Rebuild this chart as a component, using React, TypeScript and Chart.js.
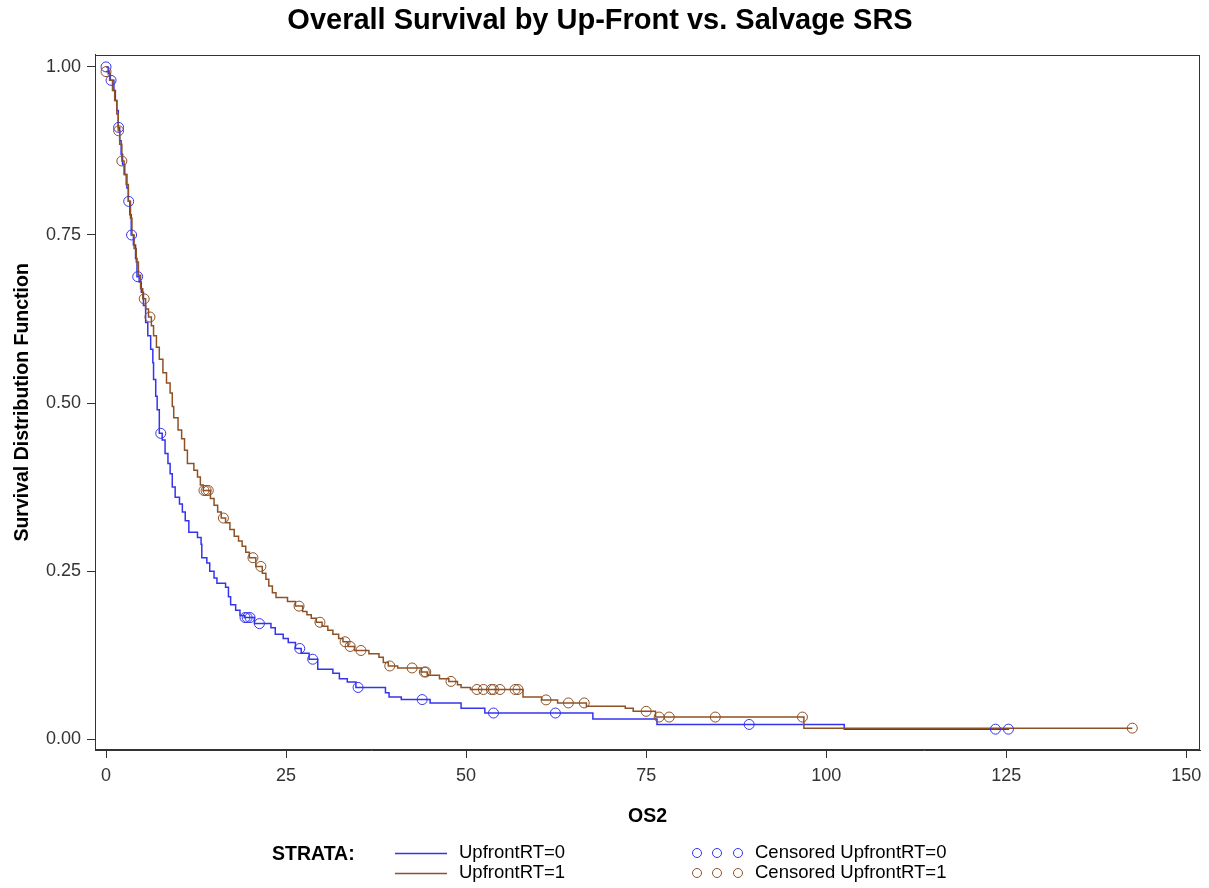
import React, { useEffect, useRef } from 'react';
import { Chart, registerables } from 'chart.js';

Chart.register(...registerables);

const BLUE = '#3434ee';
const BROWN = '#8e5125';
const SANS = "'Liberation Sans', Arial, sans-serif";

const chartTitle = 'Overall Survival by Up-Front vs. Salvage SRS';
const xTitle = 'OS2';
const yTitle = 'Survival Distribution Function';
const strataLabels = ['UpfrontRT=0', 'UpfrontRT=1'];
const censorLabels = ['Censored UpfrontRT=0', 'Censored UpfrontRT=1'];

const xTicks = [0, 25, 50, 75, 100, 125, 150];
const yTicks = [0, 0.25, 0.5, 0.75, 1.0];

// UpfrontRT=0 : event times and survival after each step
const timesRT0 = [0, 0.3, 0.6, 1.1, 1.3, 1.5, 1.7, 1.9, 2.1, 2.3, 2.6, 2.9, 3.1, 3.3, 3.5, 3.8, 4.1, 4.3, 4.6, 4.9, 5.2, 5.5, 5.8, 6.2, 6.5, 6.6, 6.9, 7.1, 7.4, 7.8, 8.2, 8.6, 8.9, 9.2, 9.6, 10.2, 10.6, 11.0, 11.5, 12.7, 13.2, 13.3, 14.0, 14.4, 15.0, 15.4, 16.6, 17.0, 17.3, 18.0, 18.6, 19.2, 20.6, 22.9, 23.5, 24.6, 25.3, 26.3, 27.1, 28.2, 29.4, 31.5, 32.4, 33.5, 34.7, 38.8, 39.3, 41.0, 45.0, 49.3, 52.6, 67.6, 76.5, 102.5, 125.4];
const survRT0 = [1.0, 0.99, 0.98, 0.965, 0.95, 0.935, 0.91, 0.89, 0.87, 0.855, 0.84, 0.82, 0.80, 0.78, 0.75, 0.735, 0.715, 0.688, 0.68, 0.665, 0.645, 0.62, 0.60, 0.58, 0.56, 0.535, 0.51, 0.49, 0.455, 0.445, 0.425, 0.41, 0.395, 0.375, 0.36, 0.35, 0.338, 0.325, 0.308, 0.30, 0.29, 0.27, 0.262, 0.25, 0.24, 0.232, 0.226, 0.212, 0.20, 0.192, 0.184, 0.181, 0.172, 0.166, 0.156, 0.15, 0.144, 0.135, 0.128, 0.119, 0.104, 0.098, 0.09, 0.085, 0.077, 0.069, 0.063, 0.059, 0.054, 0.046, 0.039, 0.030, 0.022, 0.015, 0.015];
const censorRT0 = [0, 0.7, 1.75, 3.15, 3.55, 4.4, 7.6, 19.3, 19.6, 20.0, 21.3, 26.9, 28.7, 35.0, 43.9, 53.8, 62.4, 89.3, 123.5, 125.3];

// UpfrontRT=1
const timesRT1 = [0, 0.5, 0.9, 1.2, 1.5, 1.7, 1.9, 2.2, 2.5, 2.8, 3.1, 3.4, 3.6, 3.9, 4.2, 4.5, 4.8, 5.1, 5.5, 5.9, 6.3, 6.6, 7.0, 7.4, 7.9, 8.4, 8.9, 9.2, 9.4, 10.0, 10.5, 10.9, 11.3, 12.2, 12.7, 13.1, 13.5, 14.5, 15.0, 15.5, 16.0, 16.6, 17.2, 17.8, 18.4, 18.9, 19.4, 19.9, 20.8, 21.7, 22.2, 22.6, 23.1, 23.6, 25.2, 26.3, 27.3, 27.9, 28.5, 29.2, 30.0, 30.8, 31.5, 32.3, 32.9, 33.6, 34.5, 36.5, 37.9, 38.5, 39.2, 40.5, 43.8, 44.6, 46.3, 47.6, 48.8, 49.3, 50.6, 57.9, 60.5, 62.7, 66.7, 72.1, 73.2, 76.3, 96.9, 142.5];
const survRT1 = [0.993, 0.98, 0.965, 0.95, 0.93, 0.905, 0.885, 0.86, 0.84, 0.825, 0.80, 0.775, 0.75, 0.73, 0.71, 0.69, 0.67, 0.655, 0.64, 0.628, 0.615, 0.60, 0.583, 0.565, 0.545, 0.53, 0.515, 0.495, 0.478, 0.46, 0.447, 0.43, 0.41, 0.40, 0.39, 0.378, 0.37, 0.358, 0.348, 0.338, 0.329, 0.322, 0.312, 0.302, 0.295, 0.287, 0.278, 0.27, 0.257, 0.247, 0.238, 0.228, 0.218, 0.211, 0.205, 0.198, 0.19, 0.185, 0.18, 0.174, 0.168, 0.162, 0.156, 0.15, 0.145, 0.138, 0.132, 0.127, 0.122, 0.114, 0.109, 0.106, 0.1, 0.095, 0.09, 0.086, 0.081, 0.077, 0.074, 0.063, 0.0585, 0.054, 0.049, 0.046, 0.0415, 0.033, 0.0165, 0.0165];
const censorRT1 = [0, 1.75, 2.2, 5.3, 6.1, 13.6, 13.9, 14.2, 16.3, 20.4, 21.5, 26.8, 29.7, 33.2, 33.9, 35.4, 39.4, 42.5, 44.2, 44.4, 47.9, 51.5, 52.4, 53.5, 53.8, 54.7, 56.8, 57.2, 61.1, 64.2, 66.4, 75.0, 76.8, 78.2, 84.6, 96.7, 142.5];

function survAt(times: number[], surv: number[], t: number): number {
  let s = surv[0];
  for (let i = 0; i < times.length; i++) {
    if (times[i] <= t) s = surv[i];
  }
  return s;
}

function stepPoints(times: number[], surv: number[]) {
  return times.map((t, i) => ({ x: t, y: surv[i] }));
}

function censorPoints(cens: number[], times: number[], surv: number[]) {
  return cens.map((t) => ({ x: t, y: survAt(times, surv, t) }));
}

const framePlugin = {
  id: 'frame',
  afterDraw(chart: any) {
    const { ctx, chartArea } = chart;
    ctx.save();
    ctx.strokeStyle = '#333';
    ctx.lineWidth = 1;
    ctx.strokeRect(
      Math.round(chartArea.left) + 0.5,
      Math.round(chartArea.top) + 0.5,
      Math.round(chartArea.right - chartArea.left) - 1,
      Math.round(chartArea.bottom - chartArea.top) - 1
    );
    ctx.restore();
  },
};

const legendPlugin = {
  id: 'sasLegend',
  afterDraw(chart: any) {
    const { ctx } = chart;
    ctx.save();
    ctx.textBaseline = 'middle';
    ctx.fillStyle = '#000';
    ctx.font = `bold 19.5px ${SANS}`;
    ctx.textAlign = 'left';
    ctx.fillText('STRATA:', 272, 855);
    const colors = [BLUE, BROWN];
    const rows = [853, 873];
    ctx.font = `18.5px ${SANS}`;
    for (let i = 0; i < 2; i++) {
      const y = rows[i];
      ctx.strokeStyle = colors[i];
      ctx.lineWidth = 1.5;
      ctx.beginPath();
      ctx.moveTo(395, y + 0.5);
      ctx.lineTo(447, y + 0.5);
      ctx.stroke();
      ctx.fillStyle = '#000';
      ctx.fillText(strataLabels[i], 459, y);
      ctx.lineWidth = 1;
      [697, 717, 738].forEach((cx) => {
        ctx.beginPath();
        ctx.arc(cx, y, 4.5, 0, Math.PI * 2);
        ctx.stroke();
      });
      ctx.fillText(censorLabels[i], 755, y);
    }
    ctx.restore();
  },
};

export default function App() {
  const canvasRef = useRef<HTMLCanvasElement | null>(null);

  useEffect(() => {
    document.body.style.margin = '0';
    const canvas = canvasRef.current;
    if (!canvas) return;
    const chart = new Chart(canvas, {
      type: 'line',
      data: {
        datasets: [
          {
            label: censorLabels[1],
            data: censorPoints(censorRT1, timesRT1, survRT1),
            showLine: false,
            borderColor: BROWN,
            backgroundColor: 'rgba(0,0,0,0)',
            pointStyle: 'circle',
            pointRadius: 5,
            pointBorderWidth: 1,
            pointBackgroundColor: 'rgba(0,0,0,0)',
            pointBorderColor: BROWN,
          },
          {
            label: censorLabels[0],
            data: censorPoints(censorRT0, timesRT0, survRT0),
            showLine: false,
            borderColor: BLUE,
            backgroundColor: 'rgba(0,0,0,0)',
            pointStyle: 'circle',
            pointRadius: 5,
            pointBorderWidth: 1,
            pointBackgroundColor: 'rgba(0,0,0,0)',
            pointBorderColor: BLUE,
          },
          {
            label: strataLabels[1],
            data: stepPoints(timesRT1, survRT1),
            stepped: 'before',
            borderColor: BROWN,
            borderWidth: 1.5,
            pointRadius: 0,
            fill: false,
          },
          {
            label: strataLabels[0],
            data: stepPoints(timesRT0, survRT0),
            stepped: 'before',
            borderColor: BLUE,
            borderWidth: 1.5,
            pointRadius: 0,
            fill: false,
          },
        ],
      },
      options: {
        responsive: false,
        animation: false,
        devicePixelRatio: 1,
        layout: { padding: { left: 0, right: 9, top: 0, bottom: 0 } },
        plugins: {
          legend: { display: false },
          tooltip: { enabled: false },
          title: {
            display: true,
            text: chartTitle,
            color: '#000',
            font: { family: SANS, size: 29, weight: 'bold' },
            padding: { top: 4, bottom: 16 },
          },
        },
        scales: {
          x: {
            type: 'linear',
            min: -1.53,
            max: 151.9,
            afterBuildTicks: (scale: any) => {
              scale.ticks = xTicks.map((v) => ({ value: v }));
            },
            afterFit: (scale: any) => {
              scale.height = 138;
            },
            ticks: {
              color: '#333',
              font: { family: SANS, size: 18 },
              padding: 7,
              maxRotation: 0,
              callback: (v: any) => String(v),
            },
            grid: {
              display: true,
              drawOnChartArea: false,
              drawTicks: true,
              tickLength: 8,
              color: '#333',
            },
            border: { display: true, color: '#333' },
            title: {
              display: true,
              text: xTitle,
              color: '#000',
              font: { family: SANS, size: 19.5, weight: 'bold' },
              padding: { top: 0, bottom: 60 },
            },
          },
          y: {
            type: 'linear',
            min: -0.016,
            max: 1.018,
            afterBuildTicks: (scale: any) => {
              scale.ticks = yTicks.map((v) => ({ value: v }));
            },
            afterFit: (scale: any) => {
              scale.width = 95;
            },
            ticks: {
              color: '#333',
              font: { family: SANS, size: 18 },
              padding: 6,
              callback: (v: any) => Number(v).toFixed(2),
            },
            grid: {
              display: true,
              drawOnChartArea: false,
              drawTicks: true,
              tickLength: 8,
              color: '#333',
            },
            border: { display: true, color: '#333' },
            title: {
              display: true,
              text: yTitle,
              color: '#000',
              font: { family: SANS, size: 19.5, weight: 'bold' },
              padding: { top: 11, bottom: 0 },
            },
          },
        },
      },
      plugins: [framePlugin, legendPlugin],
    });
    return () => chart.destroy();
  }, []);

  return (
    <div style={{ width: 1209, height: 888, position: 'relative', background: '#fff' }}>
      <canvas ref={canvasRef} width={1209} height={888} />
    </div>
  );
}
